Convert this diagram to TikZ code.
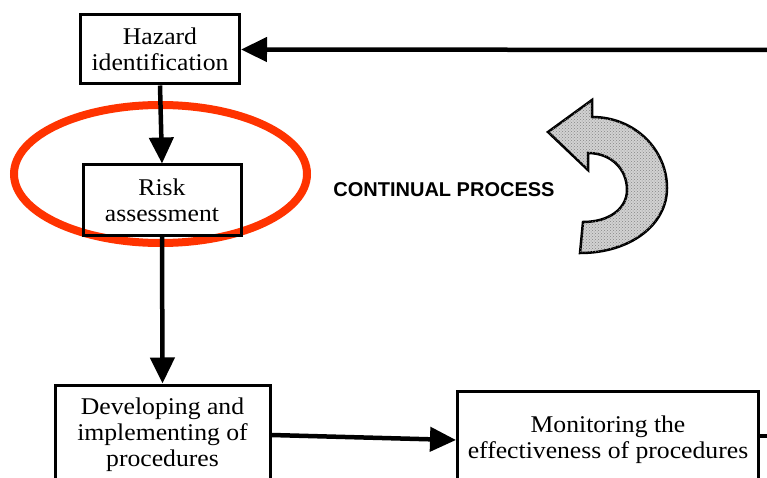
\documentclass[tikz,border=0pt]{standalone}
\usepackage{fontspec}
\setmainfont{Liberation Serif}[FakeStretch=1.07]
\newfontfamily\labelfont{Liberation Sans}
\usetikzlibrary{arrows.meta,patterns}
\definecolor{ringred}{HTML}{FF3300}

\tikzset{
    stepbox/.style={draw,line width=3pt,align=center,inner sep=0pt,
        font=\fontsize{24}{26}\selectfont},
    flow/.style={line width=4.5pt,-{Triangle[length=26pt,width=24pt]}},
    loopsign/.style={line width=2.5pt,line join=miter,fill=gray!35,
        postaction={pattern=crosshatch dots,pattern color=gray!95}}
}

\begin{document}
\begin{tikzpicture}[x=1pt,y=-1pt]
                \clip (0,0) rectangle (767,478);
                \draw[ringred,line width=8pt] (160.5,174) ellipse [x radius=146.5pt,y radius=69pt];
                \node[stepbox,minimum width=159pt,minimum height=69pt] (hazard) at (160,49.5) {Hazard\\identification};
                \node[stepbox,minimum width=158pt,minimum height=70pt] (risk) at (162,200) {Risk\\assessment};
                \node[stepbox,minimum width=215pt,minimum height=100pt] (develop) at (162.5,435) {Developing and\\implementing of\\procedures};
                \node[stepbox,minimum width=301pt,minimum height=98pt] (monitor) at (608,440) {Monitoring the\\effectiveness of procedures};
                \node[font=\labelfont\bfseries\fontsize{20}{22}\selectfont] (cycle) at (444,190) {CONTINUAL PROCESS};
                \coordinate (feedin) at (767,50);
                \coordinate (feedout) at (767,436);
                \draw[flow] (feedin) -- (hazard.east);
                \draw[flow] (hazard.south) -- (risk.north);
                \draw[flow] (risk.south) -- (develop.north);
                \draw[flow] (develop.east) -- (monitor.west);
                \draw[line width=4.5pt] (monitor.east |- feedout) -- (feedout);
                \filldraw[loopsign] (548,132) -- (592,100) -- (592,117)
                    .. controls (635,117) and (667,150) .. (667,188)
                    .. controls (667,225) and (630,253) .. (580,253)
                    -- (583,222)
                    .. controls (610,222) and (627,208) .. (627,190)
                    .. controls (627,168) and (610,153) .. (588,153)
                    -- (588,170) -- cycle;
            \end{tikzpicture}
\end{document}
